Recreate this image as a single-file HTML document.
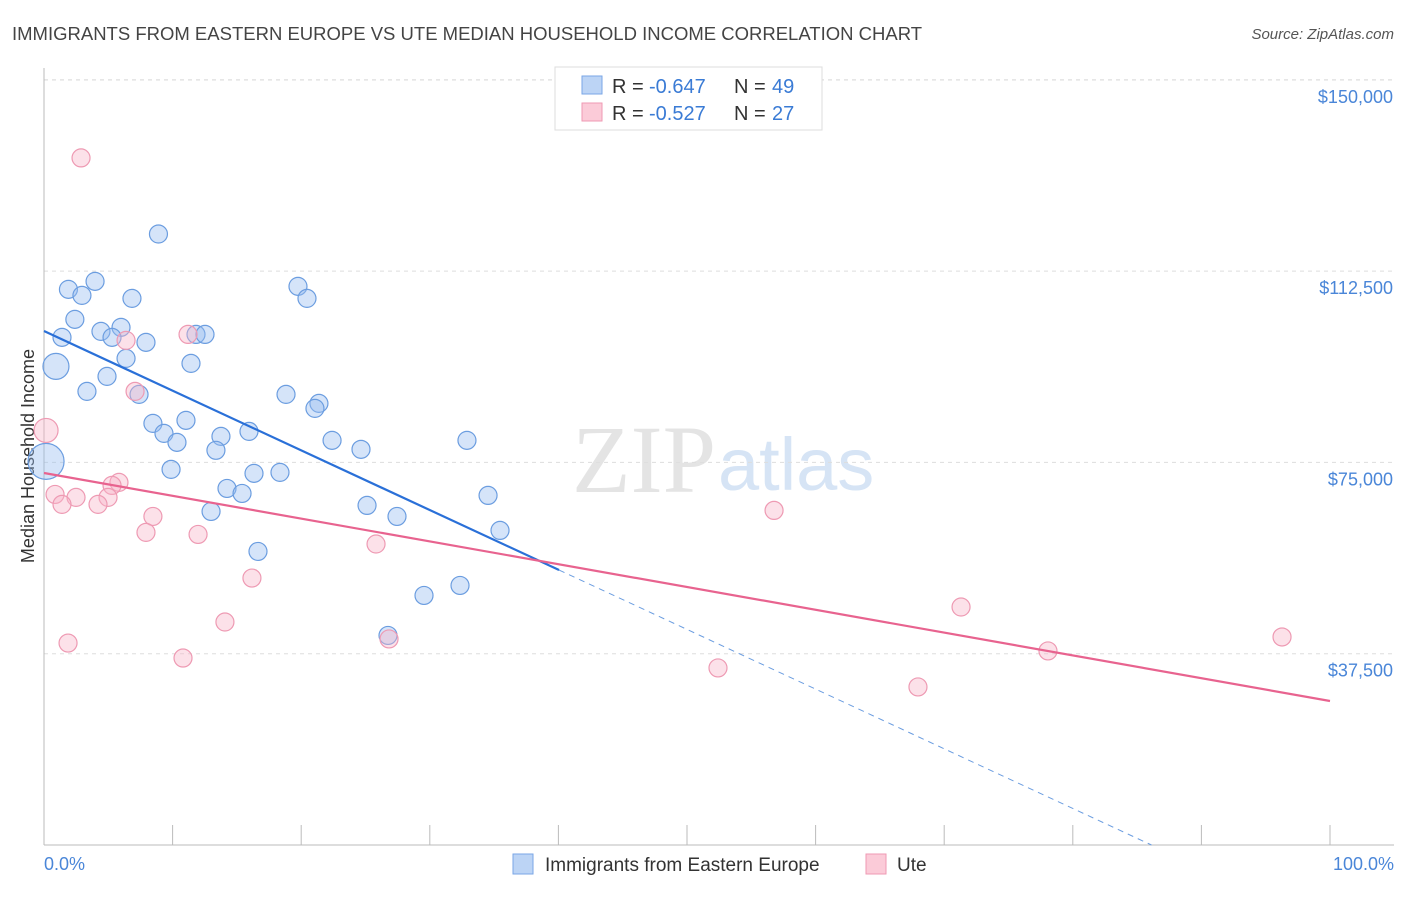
<!DOCTYPE html>
<html><head><meta charset="utf-8"><style>
body{margin:0;background:#fff;font-family:"Liberation Sans",sans-serif}
svg text{font-family:"Liberation Sans",sans-serif}
</style></head><body>
<svg width="1406" height="892" id="c">
<text x="12" y="40" font-size="18.5" fill="#444">IMMIGRANTS FROM EASTERN EUROPE VS UTE MEDIAN HOUSEHOLD INCOME CORRELATION CHART</text>
<text x="1394" y="39" font-size="15" fill="#555" font-style="italic" text-anchor="end">Source: ZipAtlas.com</text>
<text x="716" y="492" font-size="96" fill="#e4e4e4" text-anchor="end" style="font-family:'Liberation Serif',serif">ZIP</text>
<text x="718" y="490" font-size="74" fill="#d6e4f5">atlas</text>
<g id="grid"></g>
<line x1="44" y1="68" x2="44" y2="845" stroke="#bbb"/>
<line x1="44" y1="845" x2="1394" y2="845" stroke="#bbb"/>
<g id="ticks"></g>
<text x="34" y="456" font-size="18" fill="#333" text-anchor="middle" transform="rotate(-90 34 456)">Median Household Income</text>
<text x="44" y="870" font-size="18" fill="#4a86d8">0.0%</text>
<text x="1394" y="870" font-size="18" fill="#4a86d8" text-anchor="end">100.0%</text>
<g id="pts"></g>
<g id="lines"></g>
<g>
<rect x="555" y="67" width="267" height="63" fill="#fff" stroke="#ddd"/>
<rect x="582" y="76" width="20" height="18" fill="#bcd4f5" stroke="#7aa6e6"/>
<rect x="582" y="103" width="20" height="18" fill="#fbcbd8" stroke="#ef9ab3"/>
<text x="612" y="93" font-size="20" fill="#333">R =</text>
<text x="649" y="93" font-size="20" fill="#3a7bd5">-0.647</text>
<text x="734" y="93" font-size="20" fill="#333">N =</text>
<text x="772" y="93" font-size="20" fill="#3a7bd5">49</text>
<text x="612" y="120" font-size="20" fill="#333">R =</text>
<text x="649" y="120" font-size="20" fill="#3a7bd5">-0.527</text>
<text x="734" y="120" font-size="20" fill="#333">N =</text>
<text x="772" y="120" font-size="20" fill="#3a7bd5">27</text>
</g>
<g>
<rect x="513" y="854" width="20" height="20" fill="#bcd4f5" stroke="#7aa6e6"/>
<text x="545" y="871" font-size="19" fill="#333">Immigrants from Eastern Europe</text>
<rect x="866" y="854" width="20" height="20" fill="#fbcbd8" stroke="#ef9ab3"/>
<text x="897" y="871" font-size="19" fill="#333">Ute</text>
</g>
</svg>
<script>
const yTicks=[37500,75000,112500,150000];
const yTickLabels=["$37,500","$75,000","$112,500","$150,000"];
const blueX=[8.9,1.9,2.95,3.97,6.84,19.75,20.45,2.4,1.4,4.43,5.99,5.29,7.93,11.82,12.52,0.93,6.38,11.43,4.9,3.34,7.39,18.82,21.38,21.07,8.47,11.04,9.33,13.76,15.94,10.34,22.4,13.37,24.65,32.89,0.16,9.88,16.33,18.35,14.23,15.4,34.53,25.12,27.45,12.99,35.46,16.64,32.35,29.55,26.75];
const blueY=[119770,108920,107740,110490,107150,109510,107150,103040,99510,100680,101470,99510,98530,100090,100090,93820,95390,94410,91860,88920,88330,88330,86570,85590,82650,83240,80690,80100,81080,78930,79320,77370,77560,79320,75200,73630,72850,73040,69900,68920,68530,66570,64410,65390,61670,57550,50880,48920,41080];
const blueR=[9,9,9,9,9,9,9,9,9,9,9,9,9,9,9,13,9,9,9,9,9,9,9,9,9,9,9,9,9,9,9,9,9,9,18,9,9,9,9,9,9,9,9,9,9,9,9,9,9];
const pinkX=[2.88,0.16,11.2,6.38,7.08,5.83,5.29,0.86,2.49,4.98,1.4,4.2,8.47,7.93,11.98,25.82,56.77,16.17,14.07,71.31,1.87,10.81,26.83,96.27,78.07,52.41,67.96];
const pinkY=[134690,81270,100090,98920,88920,71080,70490,68720,68140,68140,66770,66770,64410,61280,60880,59000,65590,52330,43710,46650,39590,36650,40390,40780,38040,34710,30980];
const pinkR=[9,12,9,9,9,9,9,9,9,9,9,9,9,9,9,9,9,9,9,9,9,9,9,9,9,9,9];
const blueTrend=[100760,-1170];
const pinkTrend=[72920,-446.9];
const X=v=>44+v*12.86, Y=v=>845-v/37500*191.3;
const NS="http://www.w3.org/2000/svg";
function mk(t,a,p){const e=document.createElementNS(NS,t);for(const k in a)e.setAttribute(k,a[k]);document.getElementById(p).appendChild(e);return e;}
yTicks.forEach((t,i)=>{
 const g=mk('line',{x1:44,x2:1394,y1:Y(t),y2:Y(t),stroke:'#ddd','stroke-dasharray':'4,4'},'grid');
 
 
 const l=mk('text',{x:1393,y:Y(t)+23,'font-size':18,fill:'#4a86d8','text-anchor':'end'},'grid');
 l.textContent=yTickLabels[i];
 
 
});
const g0=mk('line',{x1:44,x2:1394,y1:80,y2:80,stroke:'#ddd','stroke-dasharray':'4,4'},'grid');


for(let i=1;i<=10;i++){
 const t=mk('line',{x1:X(i*10),x2:X(i*10),y1:825,y2:845,stroke:'#bbb'},'ticks');
 
 
}
function pts(xs,ys,rs,fill,stroke,name){
 xs.forEach((x,i)=>{
  const c=mk('circle',{cx:X(x),cy:Y(ys[i]),r:rs[i],fill:fill,stroke:stroke,'stroke-width':1.2},'pts');
  
  
 });
}
pts(blueX,blueY,blueR,'rgba(150,188,240,0.4)','#6b9de0','blue-point');
pts(pinkX,pinkY,pinkR,'rgba(248,180,200,0.4)','#ee9ab3','pink-point');
const bx=40.05;
const b1=mk('line',{x1:X(0),y1:Y(blueTrend[0]),x2:X(bx),y2:Y(blueTrend[0]+blueTrend[1]*bx),stroke:'#2a70d8','stroke-width':2.2},'lines');


const bEnd=-blueTrend[0]/blueTrend[1];
const b2=mk('line',{x1:X(bx),y1:Y(blueTrend[0]+blueTrend[1]*bx),x2:X(bEnd),y2:Y(0),stroke:'#6b9de0','stroke-width':1,'stroke-dasharray':'6,5'},'lines');


const p1=mk('line',{x1:X(0),y1:Y(pinkTrend[0]),x2:X(100),y2:Y(pinkTrend[0]+pinkTrend[1]*100),stroke:'#e8638f','stroke-width':2.2},'lines');


</script>
</body></html>
